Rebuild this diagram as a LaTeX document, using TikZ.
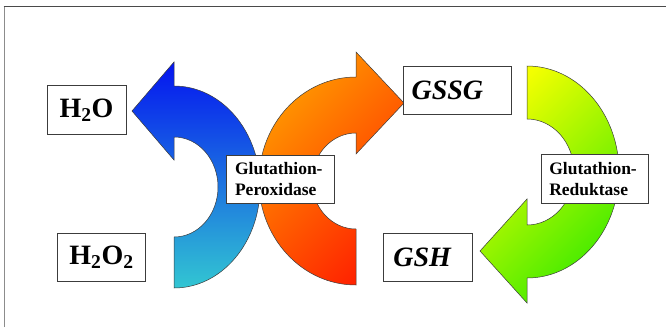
\documentclass[tikz,border=0pt]{standalone}
\usepackage{fontspec}
\setmainfont{Liberation Serif}[
  BoldFont={Liberation Serif Bold},
  BoldItalicFont={Liberation Serif Bold Italic}]
\usepackage{tikz}
\definecolor{rimline}{HTML}{3c3c3c}
\definecolor{topframe}{HTML}{4a4a4a}
\definecolor{sideframe}{HTML}{8c8c8c}
\definecolor{bluetop}{HTML}{0414F0}
\definecolor{bluebot}{HTML}{32C6D2}
\definecolor{orangetop}{HTML}{FF9C00}
\definecolor{orangebot}{HTML}{FF2400}
\definecolor{greentop}{HTML}{F4FF00}
\definecolor{greenbot}{HTML}{3CEA00}

\begin{document}
\begin{tikzpicture}[x=1pt, y=1pt,
  lbl/.style={draw=rimline, fill=white, line width=0.6pt, inner sep=0pt, minimum height=48.5pt},
  big/.style={lbl, font=\fontsize{28}{30}\selectfont\bfseries},
  bigit/.style={lbl, font=\fontsize{28}{30}\selectfont\bfseries\itshape, align=left},
  enz/.style={lbl, font=\fontsize{17.5}{21}\selectfont\bfseries, align=left},
  swirl/.style={draw=rimline, line width=0.5pt}]
\useasboundingbox (0,0) rectangle (666,-327);

% frame
\draw[sideframe, line width=1.5pt] (4.3,-327) -- (4.3,-6.7);
\draw[topframe, line width=0.8pt] (3.6,-6.7) -- (666,-6.7);

% peroxidase arrows
\path[swirl, top color=bluetop, bottom color=bluebot]
  (174,-288) arc[start angle=-90, end angle=90, x radius=86, y radius=101]
  -- (174,-62) -- (132,-111) -- (174,-160) -- (174,-137)
  arc[start angle=90, end angle=-90, x radius=44, y radius=50] -- cycle;

\path[swirl, top color=orangetop, bottom color=orangebot, shading angle=45]
  (356,-285) arc[start angle=-90, end angle=-270, x radius=97, y radius=104]
  -- (356,-52) -- (404,-103) -- (356,-154) -- (356,-133)
  arc[start angle=90, end angle=270, x radius=44, y radius=48] -- cycle;

% reductase arrow
\path[swirl, top color=greentop, bottom color=greenbot, shading angle=45]
  (527,-66) arc[start angle=90, end angle=-90, x radius=92, y radius=106]
  -- (527,-303) -- (480,-251) -- (527,-199) -- (527,-225)
  arc[start angle=-90, end angle=90, x radius=47, y radius=53] -- cycle;

% labels
\node[big, minimum width=79pt] (water) at (86.5,-110) {H\textsubscript{2}O};
\node[big, minimum width=88.4pt] (peroxide) at (101.5,-257.5) {H\textsubscript{2}O\textsubscript{2}};
\node[bigit, inner xsep=8.3pt, text width=91.8pt] (gssg) at (457.5,-90.3) {GSSG};
\node[bigit, inner xsep=10pt, text width=69.4pt] (gsh) at (428,-257.5) {GSH};
\node[enz, inner xsep=9pt, text width=90.3pt] (gpx) at (280.2,-179.2) {Glutathion-\\Peroxidase};
\node[enz, inner xsep=7.6pt, text width=91.8pt] (gred) at (595.2,-178.7) {Glutathion-\\Reduktase};
\end{tikzpicture}
\end{document}
